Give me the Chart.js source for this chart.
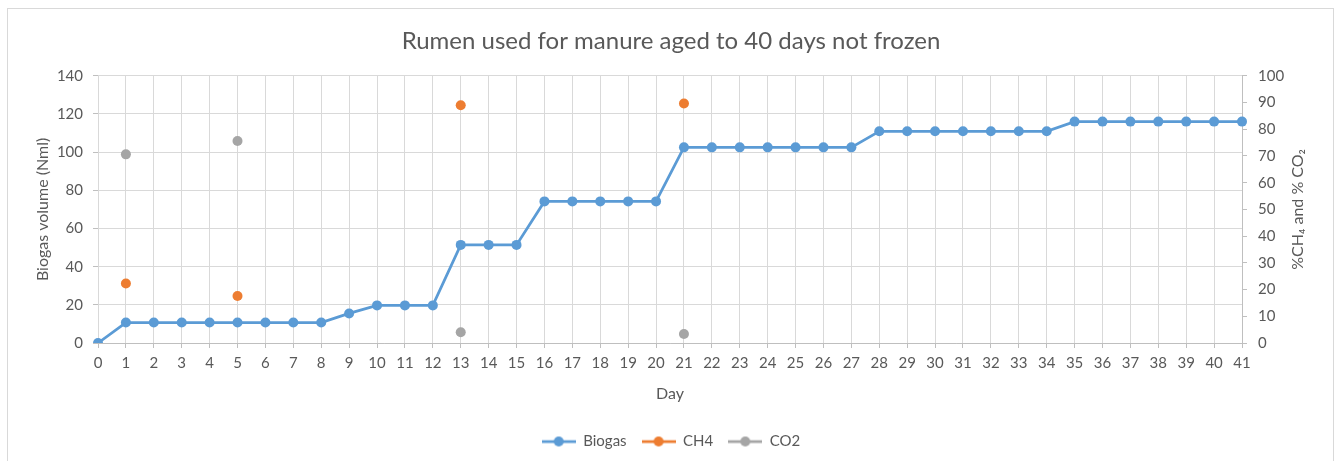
<!DOCTYPE html>
<html>
<head>
<meta charset="utf-8">
<script src="https://cdn.jsdelivr.net/npm/chart.js@4.4.1/dist/chart.umd.min.js"></script>
<style>
    html, body { margin: 0; padding: 0; background: #fff; overflow: hidden; }
    #frame {
        position: absolute; left: 7px; top: 8px;
        width: 1325px; height: 470px;
        border: 1px solid #d9d9d9;
    }
    #chart { position: absolute; left: 0; top: 0; }
</style>
</head>
<body>
<div id="frame"></div>
<canvas id="chart" width="1342" height="461"></canvas>
<script>
// datos
const days = ["0","1","2","3","4","5","6","7","8","9","10","11","12","13","14","15","16","17","18","19","20",
    "21","22","23","24","25","26","27","28","29","30","31","32","33","34","35","36","37","38","39","40","41"];

const biogas = [0, 10.7, 10.7, 10.7, 10.7, 10.7, 10.7, 10.7, 10.7, 15.5, 19.7, 19.7, 19.7,
    51.4, 51.4, 51.4, 74.2, 74.2, 74.2, 74.2, 74.2,
    102.5, 102.5, 102.5, 102.5, 102.5, 102.5, 102.5,
    110.9, 110.9, 110.9, 110.9, 110.9, 110.9, 110.9,
    116, 116, 116, 116, 116, 116, 116];

// % gases (solo días medidos)
const ch4 = [null, 22.3, null, null, null, 17.6, null, null, null, null, null, null, null,
    89.0, null, null, null, null, null, null, null, 89.6];
const co2 = [null, 70.6, null, null, null, 75.6, null, null, null, null, null, null, null,
    4.0, null, null, null, null, null, null, null, 3.4];

const blue = "#5b9bd5";
const orange = "#ed7d31";
const grey = "#a5a5a5";
const textColor = "#595959";
const gridColor = "#d9d9d9";
const axisColor = "#bfbfbf";
const font = "Lato";

// icono de leyenda: línea con punto
function legendIcon(color) {
    const c = document.createElement("canvas");
    c.width = 34;
    c.height = 12;
    const g = c.getContext("2d");
    g.strokeStyle = color;
    g.lineWidth = 2.75;
    g.beginPath();
    g.moveTo(0, 6);
    g.lineTo(34, 6);
    g.stroke();
    g.fillStyle = color;
    g.beginPath();
    g.arc(17, 6, 5, 0, Math.PI * 2);
    g.fill();
    return c;
}

// título del eje derecho (leído de abajo a arriba)
const rightTitle = {
    id: "rightTitle",
    afterDraw(chart) {
        const { ctx, chartArea } = chart;
        const s = chart.scales.y1;
        ctx.save();
        ctx.translate(s.right - 44, (chartArea.top + chartArea.bottom) / 2);
        ctx.rotate(-Math.PI / 2);
        ctx.font = "16px " + font;
        ctx.fillStyle = textColor;
        ctx.textAlign = "center";
        ctx.textBaseline = "middle";
        ctx.fillText("%CH\u2084 and % CO\u2082", 0, 0);
        ctx.restore();
    }
};

const tickFont = { family: font, size: 15 };

const ctx = document.getElementById("chart").getContext("2d");

new Chart(ctx, {
    type: "line",
    data: {
        labels: days,
        datasets: [
            {
                label: "Biogas",
                data: biogas,
                yAxisID: "y",
                borderColor: blue,
                backgroundColor: blue,
                borderWidth: 2.75,
                pointRadius: 5,
                pointBorderWidth: 0,
                tension: 0
            },
            {
                label: "CH4",
                data: ch4,
                yAxisID: "y1",
                showLine: false,
                borderColor: orange,
                backgroundColor: orange,
                pointRadius: 5,
                pointBorderWidth: 0
            },
            {
                label: "CO2",
                data: co2,
                yAxisID: "y1",
                showLine: false,
                borderColor: grey,
                backgroundColor: grey,
                pointRadius: 5,
                pointBorderWidth: 0
            }
        ]
    },
    options: {
        responsive: false,
        animation: false,
        layout: { padding: { bottom: 2 } },
        plugins: {
            title: {
                display: true,
                text: "Rumen used for manure aged to 40 days not frozen",
                color: textColor,
                font: { family: font, size: 24, weight: "normal" },
                padding: { top: 27, bottom: 20 }
            },
            legend: {
                position: "bottom",
                labels: {
                    color: textColor,
                    font: { family: font, size: 15 },
                    usePointStyle: true,
                    pointStyleWidth: 34,
                    padding: 15,
                    generateLabels(chart) {
                        return chart.data.datasets.map((d, i) => ({
                            text: d.label,
                            fillStyle: d.borderColor,
                            strokeStyle: d.borderColor,
                            lineWidth: 0,
                            pointStyle: legendIcon(d.borderColor),
                            fontColor: textColor,
                            datasetIndex: i,
                            hidden: false
                        }));
                    }
                }
            },
            tooltip: { enabled: false }
        },
        scales: {
            x: {
                offset: false,
                grid: { color: gridColor, tickColor: axisColor, tickLength: 5 },
                border: { color: axisColor },
                ticks: { color: textColor, font: tickFont, padding: 6, autoSkip: false, maxRotation: 0 },
                title: {
                    display: true,
                    text: "Day",
                    color: textColor,
                    font: { family: font, size: 16 },
                    padding: { top: 0, bottom: 16 }
                },
                afterFit(scale) { scale.height = 76; }
            },
            y: {
                position: "left",
                min: 0,
                max: 140,
                ticks: { stepSize: 20, color: textColor, font: tickFont, padding: 10 },
                grid: { color: gridColor, tickColor: axisColor, tickLength: 5 },
                border: { display: false },
                title: {
                    display: true,
                    text: "Biogas volume (Nml)",
                    color: textColor,
                    font: { family: font, size: 16 },
                    padding: { top: 33, bottom: 0 }
                },
                afterFit(scale) { scale.width = 98; }
            },
            y1: {
                position: "right",
                min: 0,
                max: 100,
                ticks: { stepSize: 10, color: textColor, font: tickFont, padding: 11 },
                grid: { drawOnChartArea: false, color: axisColor, tickColor: axisColor, tickLength: 5 },
                border: { color: axisColor },
                afterFit(scale) { scale.width = 100; }
            }
        }
    },
    plugins: [rightTitle]
});
</script>
</body>
</html>
